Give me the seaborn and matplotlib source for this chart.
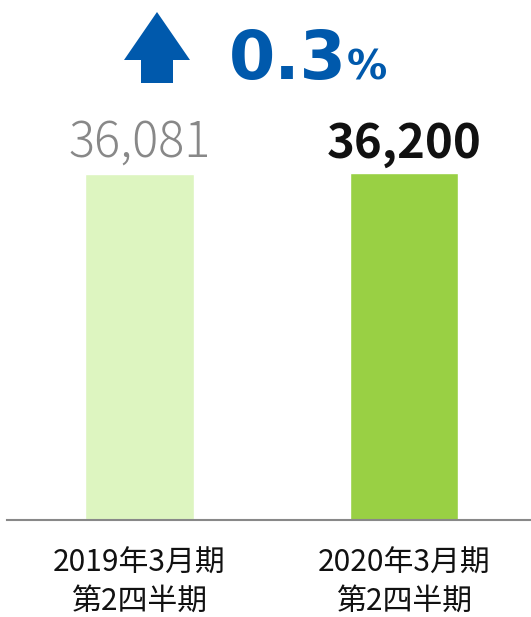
import matplotlib
matplotlib.use("Agg")
import matplotlib.pyplot as plt
import seaborn as sns
import pandas as pd
from matplotlib.patches import Polygon

# data
periods = ["2019年3月期\n第2四半期", "2020年3月期\n第2四半期"]
values = [36081, 36200]
value_labels = ["36,081", "36,200"]
change_label = "0.3"
bar_colors = ["#ddf5c0", "#99d044"]

sns.set_theme(style="white")
plt.rcParams["font.family"] = ["Noto Sans CJK JP", "DejaVu Sans"]

df = pd.DataFrame({"period": periods, "value": values})

fig = plt.figure(figsize=(5.31, 6.17), dpi=100)
ax = fig.add_axes([7 / 531, 97 / 617, 524 / 531, 420 / 617])

sns.barplot(data=df, x="period", y="value", hue="period", palette=bar_colors,
            width=0.41, legend=False, ax=ax, saturation=1)

ax.set_xlim(-0.5, 1.48)
ax.set_ylim(0, 36200 * 418 / 345)
ax.set_xlabel("")
ax.set_ylabel("")
ax.set_yticks([])
for s in ["top", "right", "left"]:
    ax.spines[s].set_visible(False)
ax.spines["bottom"].set_color("#888888")
ax.spines["bottom"].set_linewidth(1.5)
ax.tick_params(axis="x", length=0, pad=20, labelsize=21.5, colors="#111111")
for t in ax.get_xticklabels():
    t.set_linespacing(1.3)

# value labels
ax.text(0, values[0] + 650, value_labels[0], ha="center", va="bottom",
        fontsize=35, color="#888888", fontweight="light")
ax.text(1, values[1] + 600, value_labels[1], ha="center", va="bottom",
        fontsize=34, color="#111111", fontweight="bold")

# change indicator
blue = "#0059ac"
arrow_px = [(124, 60), (157, 12), (190, 60), (173, 60), (173, 83),
            (141, 83), (141, 60)]
arrow = Polygon([(x / 531, 1 - y / 617) for x, y in arrow_px], closed=True,
                facecolor=blue, edgecolor="none", transform=fig.transFigure)
fig.patches.append(arrow)

fig.text(229 / 531, 1 - 79 / 617, change_label, fontsize=48, fontweight="bold",
         color=blue, family=["DejaVu Sans"], va="baseline")
fig.text(347 / 531, 1 - 79 / 617, "%", fontsize=29, fontweight="bold",
         color=blue, family=["DejaVu Sans"], va="baseline")

fig.savefig("out.png", dpi=100)
